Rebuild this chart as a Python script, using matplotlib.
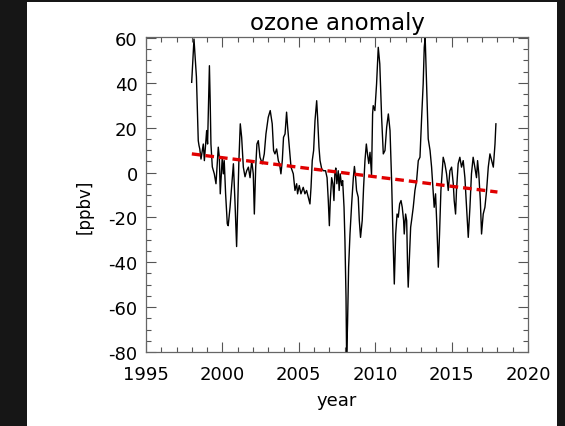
import matplotlib
matplotlib.use("Agg")
import matplotlib.pyplot as plt
from matplotlib.patches import Rectangle
from matplotlib.ticker import MultipleLocator

plt.rcParams['font.family'] = ['DejaVu Sans']
plt.rcParams['axes.unicode_minus'] = False

# ---- data ----
years = [
    1997.99, 1998.14, 1998.30, 1998.42, 1998.47, 1998.52, 1998.60, 1998.75, 1998.82, 1998.97,
    1999.03, 1999.15, 1999.20, 1999.25, 1999.34, 1999.47, 1999.58, 1999.73, 1999.80, 1999.86,
    1999.99, 2000.06, 2000.12, 2000.21, 2000.32, 2000.38, 2000.50, 2000.72, 2000.82, 2000.93,
    2001.00, 2001.08, 2001.17, 2001.26, 2001.37, 2001.48, 2001.59, 2001.70, 2001.81, 2001.92,
    2002.02, 2002.09, 2002.18, 2002.26, 2002.35, 2002.46, 2002.61, 2002.74, 2002.85, 2003.00,
    2003.13, 2003.26, 2003.35, 2003.44, 2003.55, 2003.66, 2003.74, 2003.83, 2003.92, 2004.00,
    2004.10, 2004.20, 2004.27, 2004.36, 2004.49, 2004.64, 2004.75, 2004.86, 2004.92, 2005.03,
    2005.14, 2005.29, 2005.40, 2005.51, 2005.62, 2005.73, 2005.80, 2005.88, 2005.97, 2006.06,
    2006.17, 2006.23, 2006.32, 2006.39, 2006.50, 2006.61, 2006.75, 2006.85, 2006.93, 2007.00,
    2007.06, 2007.15, 2007.23, 2007.30, 2007.36, 2007.42, 2007.49, 2007.58, 2007.64, 2007.71,
    2007.80, 2007.87, 2007.96, 2008.02, 2008.09, 2008.13, 2008.19, 2008.26, 2008.35, 2008.46,
    2008.57, 2008.64, 2008.72, 2008.78, 2008.89, 2008.96, 2009.04, 2009.15, 2009.24, 2009.33,
    2009.42, 2009.50, 2009.58, 2009.66, 2009.76, 2009.83, 2009.87, 2009.98, 2010.09, 2010.20,
    2010.30, 2010.42, 2010.53, 2010.64, 2010.75, 2010.86, 2010.97, 2011.08, 2011.16, 2011.25,
    2011.34, 2011.43, 2011.51, 2011.60, 2011.69, 2011.77, 2011.86, 2011.90, 2011.99, 2012.06,
    2012.12, 2012.16, 2012.23, 2012.32, 2012.38, 2012.49, 2012.60, 2012.71, 2012.82, 2012.93,
    2013.04, 2013.14, 2013.21, 2013.27, 2013.36, 2013.47, 2013.59, 2013.69, 2013.80, 2013.86,
    2013.95, 2014.04, 2014.13, 2014.21, 2014.30, 2014.45, 2014.56, 2014.67, 2014.78, 2014.89,
    2015.00, 2015.11, 2015.17, 2015.26, 2015.32, 2015.43, 2015.54, 2015.65, 2015.76, 2015.87,
    2015.98, 2016.09, 2016.20, 2016.30, 2016.41, 2016.52, 2016.63, 2016.70, 2016.78, 2016.88,
    2016.96, 2017.07, 2017.18, 2017.29, 2017.40, 2017.51, 2017.62, 2017.73, 2017.84, 2017.90,
]
anomaly = [
    40.2, 59.5, 42.6, 14.2, 12.0, 10.5, 6.0, 12.7, 5.3, 18.7,
    12.7, 47.6, 32.0, 12.7, 2.5, -0.6, -5.0, 11.3, 6.8, -9.5,
    6.8, -0.6, 5.3, -9.5, -22.9, -23.7, -15.5, 3.9, -12.5, -33.0,
    -15.5, 5.3, 21.7, 15.7, 2.4, -1.9, 0.8, 2.4, -2.3, 5.3,
    -0.6, -18.5, 2.4, 12.7, 14.2, 6.8, 3.9, 8.3, 17.2, 24.6,
    27.6, 21.7, 9.8, 8.3, 10.5, 5.3, 3.9, -0.6, 5.3, 15.7,
    17.2, 26.9, 20.2, 12.7, 2.4, -0.6, -8.0, -5.0, -9.5, -5.8,
    -9.5, -6.6, -9.5, -8.0, -11.0, -14.0, -6.6, 5.3, 9.8, 23.1,
    32.0, 24.6, 11.3, 5.3, 1.6, 0.8, 0.8, -2.3, -12.5, -23.7,
    -12.5, -2.3, -5.0, -12.5, -0.6, 2.0, -5.0, 0.8, -8.0, -0.6,
    -5.8, -3.6, -15.5, -30.4, -55.6, -83.0, -67.5, -42.2, -27.4, -14.0,
    -2.3, 2.7, -2.3, -8.0, -11.0, -21.4, -28.9, -21.4, -6.6, 5.3,
    12.7, 8.0, 4.0, 9.0, -1.0, 26.1, 29.8, 27.6, 39.5, 55.8,
    48.4, 24.6, 8.3, 9.8, 20.2, 26.1, 18.7, -5.0, -27.4, -49.7,
    -27.4, -18.5, -19.9, -14.0, -12.5, -15.5, -21.4, -27.4, -18.5, -21.4,
    -42.2, -51.1, -39.3, -24.4, -21.4, -15.5, -8.0, -3.6, 5.3, 6.8,
    24.6, 39.5, 55.8, 60.3, 40.0, 15.0, 9.8, 2.4, -9.5, -15.5,
    -9.5, -24.4, -42.2, -27.4, -8.0, 6.8, 3.9, -0.6, -8.0, 0.8,
    2.4, -5.0, -12.5, -18.5, -8.0, 3.9, 6.8, 2.4, 5.3, -2.3,
    -15.5, -28.9, -15.5, -0.6, 6.8, 2.4, -2.3, 5.3, -0.6, -12.5,
    -27.4, -18.5, -15.5, -8.0, 2.4, 8.3, 5.3, 2.4, 12.7, 21.7,
]
trend_years = [1998.0, 2018.0]
trend_values = [8.3, -8.7]

title = "ozone anomaly"
xlabel = "year"
ylabel = "[ppbv]"
xticks = [1995, 2000, 2005, 2010, 2015, 2020]
yticks = [-80, -60, -40, -20, 0, 20, 40, 60]

# ---- figure ----
W, H = 565, 427
fig = plt.figure(figsize=(W / 100, H / 100), dpi=100)
fig.patch.set_facecolor('#161616')
fig.patches.append(Rectangle((27 / W, 0), (557 - 27) / W, (427 - 3) / H,
                             transform=fig.transFigure, facecolor='white',
                             edgecolor='none', zorder=-10))

ax = fig.add_axes([146 / W, 1 - 353 / H, (528 - 146) / W, (353 - 38) / H])
ax.set_zorder(5)
ax.set_facecolor('white')

ax.plot(years, anomaly, color='black', lw=1.0, zorder=2)
ax.plot(trend_years, trend_values, color='#e00000', lw=2.4,
        dashes=(2.6, 1.5), dash_capstyle='butt', zorder=3)

ax.set_xlim(1995, 2020)
ax.set_ylim(-80, 60.4)
ax.set_xticks(xticks)
ax.set_yticks(yticks)
ax.xaxis.set_minor_locator(MultipleLocator(1))
ax.yaxis.set_minor_locator(MultipleLocator(5))
ax.tick_params(which='both', direction='in', top=True, right=True,
               color='#555555', width=0.8)
ax.tick_params(which='major', length=7)
ax.tick_params(which='minor', length=3.5)
ax.tick_params(axis='x', which='major', labelsize=13, pad=9)
ax.tick_params(axis='y', which='major', labelsize=13, pad=6)
for s in ax.spines.values():
    s.set_color('#666666')
    s.set_linewidth(0.9)

ax.set_title(title, fontsize=16.5, pad=6)
ax.set_xlabel(xlabel, fontsize=13, labelpad=6)
ax.set_ylabel(ylabel, fontsize=12)
ax.yaxis.set_label_coords(-0.137, 0.465)

fig.savefig('out.png', dpi=100, facecolor=fig.get_facecolor())
